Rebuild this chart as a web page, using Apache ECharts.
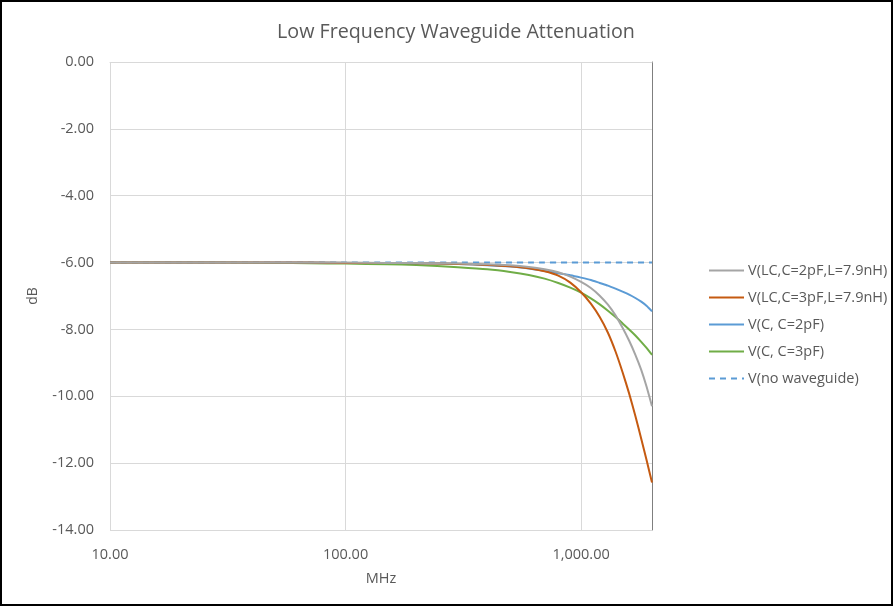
<!DOCTYPE html>
<html>
<head>
<meta charset="utf-8">
<title>Low Frequency Waveguide Attenuation</title>
<script src="https://cdn.jsdelivr.net/npm/echarts@6/dist/echarts.min.js"></script>
<style>
  html, body { margin: 0; padding: 0; background: #fff; }
  #wrap { position: relative; width: 893px; height: 606px; }
  #chart { position: absolute; left: 0; top: 0; width: 893px; height: 606px; }
  #frame { position: absolute; left: 0; top: 0; width: 893px; height: 606px;
           border: 2px solid #000; box-sizing: border-box; pointer-events: none; }
</style>
</head>
<body>
<div id="wrap">
  <div id="chart"></div>
  <div id="frame"></div>
</div>
<script>
// Frequencies (MHz) at which the responses were sampled
const freqMHz = [10, 20, 30, 50, 70, 100, 150, 200, 300, 400, 500, 600, 700, 800, 900,
                 1000, 1100, 1200, 1300, 1400, 1500, 1600, 1700, 1800, 1900, 2000];

// Output level (dB) for each configuration
const lc2pF = [-6.00, -6.00, -6.00, -6.00, -6.00, -6.00, -6.01, -6.01, -6.03, -6.05, -6.08, -6.13, -6.20, -6.29, -6.42,
               -6.58, -6.76, -6.99, -7.26, -7.58, -7.95, -8.34, -8.76, -9.21, -9.73, -10.30];
const lc3pF = [-6.00, -6.00, -6.00, -6.00, -6.00, -6.01, -6.01, -6.02, -6.04, -6.07, -6.11, -6.17, -6.26, -6.39, -6.60,
               -6.89, -7.23, -7.63, -8.10, -8.66, -9.28, -9.92, -10.59, -11.27, -11.93, -12.58];
const c2pF  = [-6.00, -6.00, -6.00, -6.00, -6.00, -6.01, -6.01, -6.02, -6.04, -6.08, -6.12, -6.18, -6.25, -6.32, -6.38,
               -6.45, -6.52, -6.61, -6.69, -6.78, -6.87, -6.96, -7.06, -7.17, -7.30, -7.46];
const c3pF  = [-6.00, -6.00, -6.00, -6.01, -6.02, -6.03, -6.05, -6.07, -6.14, -6.20, -6.28, -6.37, -6.48, -6.61, -6.75,
               -6.90, -7.07, -7.25, -7.44, -7.63, -7.82, -8.00, -8.18, -8.37, -8.56, -8.76];
const noGuide = [-6.00, -6.00, -6.00, -6.00, -6.00, -6.00, -6.00, -6.00, -6.00, -6.00, -6.00, -6.00, -6.00, -6.00, -6.00,
                 -6.00, -6.00, -6.00, -6.00, -6.00, -6.00, -6.00, -6.00, -6.00, -6.00, -6.00];

const seriesNames = ['V(LC,C=2pF,L=7.9nH)', 'V(LC,C=3pF,L=7.9nH)', 'V(C, C=2pF)', 'V(C, C=3pF)', 'V(no waveguide)'];
const seriesValues = [lc2pF, lc3pF, c2pF, c3pF, noGuide];
const seriesColors = ['#A5A5A5', '#C55A11', '#5B9BD5', '#70AD47', '#5B9BD5'];

const textColor = '#595959';
const fontFamily = '"Open Sans", "Liberation Sans", sans-serif';

const pairs = vals => freqMHz.map((f, i) => [f, vals[i]]);

const chart = echarts.init(document.getElementById('chart'), null, { renderer: 'canvas' });

chart.setOption({
  animation: false,
  backgroundColor: '#fff',
  textStyle: { fontFamily: fontFamily, color: textColor },
  title: {
    text: 'Low Frequency Waveguide Attenuation',
    left: 451, top: 17, textAlign: 'center',
    textStyle: { fontFamily: fontFamily, fontSize: 19.7, fontWeight: 'normal', color: textColor }
  },
  legend: {
    orient: 'vertical',
    left: 703, top: 258,
    itemWidth: 35, itemHeight: 14, itemGap: 12,
    itemStyle: { opacity: 0 },
    textStyle: { fontFamily: fontFamily, fontSize: 14.5, color: textColor, padding: [0, 0, 0, -1] },
    data: seriesNames
  },
  grid: { left: 110, right: 241, top: 62, bottom: 76, containLabel: false },
  xAxis: {
    type: 'log', logBase: 10, min: 10, max: 2000,
    name: 'MHz', nameLocation: 'middle', nameGap: 41,
    nameTextStyle: { fontFamily: fontFamily, fontSize: 14.5, color: textColor },
    axisLine: { show: true, lineStyle: { color: '#D9D9D9', width: 1 } },
    axisTick: { show: false },
    axisLabel: {
      margin: 17, fontSize: 14.5, color: textColor, fontFamily: fontFamily,
      formatter: v => (v > 1000 ? '' : v.toLocaleString('en-US', { minimumFractionDigits: 2, maximumFractionDigits: 2 }))
    },
    splitLine: { show: true, lineStyle: { color: '#D9D9D9', width: 1 } }
  },
  yAxis: [{
    type: 'value', min: -14, max: 0, interval: 2,
    name: 'dB', nameLocation: 'middle', nameGap: 70,
    nameTextStyle: { fontFamily: fontFamily, fontSize: 14, color: textColor },
    axisLine: { show: false },
    axisTick: { show: false },
    axisLabel: { margin: 16, fontSize: 14.5, color: textColor, fontFamily: fontFamily,
                 formatter: v => v.toFixed(2) },
    splitLine: { show: true, lineStyle: { color: '#D9D9D9', width: 1 } }
  }, {
    type: 'value', min: -14, max: 0, interval: 2, position: 'right',
    axisLine: { show: true, onZero: false, lineStyle: { color: '#7F7F7F', width: 1 } },
    axisTick: { show: false },
    axisLabel: { show: false },
    splitLine: { show: false }
  }],
  series: seriesNames.map((name, i) => ({
    name: name,
    type: 'line',
    data: pairs(seriesValues[i]),
    symbol: 'none',
    smooth: 0.15,
    z: i === 4 ? 1 : 10 - i,
    color: seriesColors[i],
    lineStyle: {
      color: seriesColors[i], width: 2,
      type: i === 4 ? [6, 5] : 'solid'
    }
  }))
});
</script>
</body>
</html>
